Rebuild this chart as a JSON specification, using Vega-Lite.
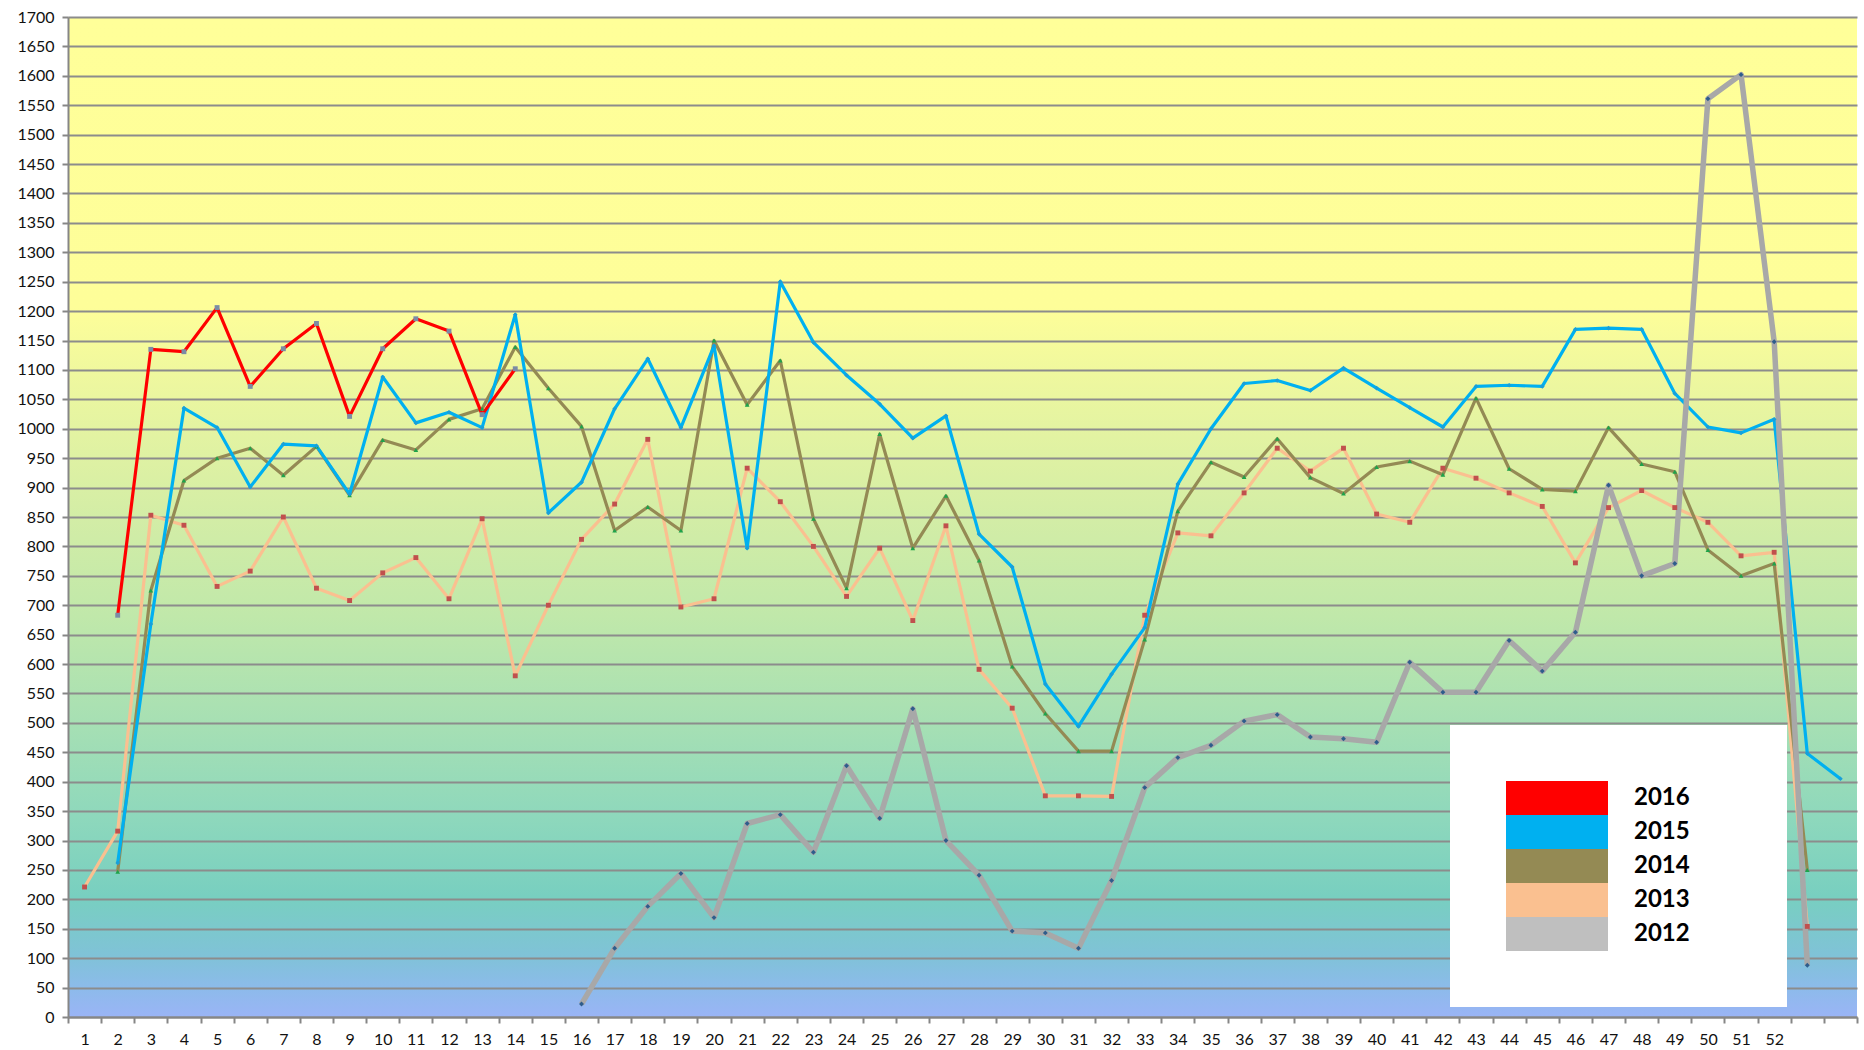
{
  "$schema": "https://vega.github.io/schema/vega-lite/v6.json",
  "width": 1789,
  "height": 1000,
  "autosize": {"type": "none"},
  "padding": {"left": 68, "top": 17, "right": 7, "bottom": 33},
  "background": "white",
  "view": {
    "stroke": null,
    "fill": {
      "gradient": "linear", "x1": 0, "y1": 0, "x2": 0, "y2": 1,
      "stops": [
        {"offset": 0, "color": "#FFFF99"},
        {"offset": 0.29, "color": "#FEFE99"},
        {"offset": 0.38, "color": "#EAF6A0"},
        {"offset": 0.5, "color": "#D3EDA6"},
        {"offset": 0.6, "color": "#C0E8AA"},
        {"offset": 0.7, "color": "#A8E0B3"},
        {"offset": 0.8, "color": "#8ED8BC"},
        {"offset": 0.88, "color": "#78CFC0"},
        {"offset": 0.94, "color": "#80C2D8"},
        {"offset": 0.97, "color": "#8CBBEA"},
        {"offset": 1, "color": "#9AB4F6"}
      ]
    }
  },
  "config": {"font": "Lato"},
  "data": {"values": [
    {"w":1,"y":"2013","v":221},{"w":2,"y":"2013","v":316},{"w":3,"y":"2013","v":853},{"w":4,"y":"2013","v":836},{"w":5,"y":"2013","v":732},{"w":6,"y":"2013","v":758},{"w":7,"y":"2013","v":850},{"w":8,"y":"2013","v":729},{"w":9,"y":"2013","v":708},{"w":10,"y":"2013","v":755},{"w":11,"y":"2013","v":781},{"w":12,"y":"2013","v":711},{"w":13,"y":"2013","v":847},{"w":14,"y":"2013","v":580},{"w":15,"y":"2013","v":700},{"w":16,"y":"2013","v":812},{"w":17,"y":"2013","v":872},{"w":18,"y":"2013","v":982},{"w":19,"y":"2013","v":697},{"w":20,"y":"2013","v":711},{"w":21,"y":"2013","v":933},{"w":22,"y":"2013","v":876},{"w":23,"y":"2013","v":800},{"w":24,"y":"2013","v":715},{"w":25,"y":"2013","v":797},{"w":26,"y":"2013","v":674},{"w":27,"y":"2013","v":835},{"w":28,"y":"2013","v":591},{"w":29,"y":"2013","v":525},{"w":30,"y":"2013","v":376},{"w":31,"y":"2013","v":376},{"w":32,"y":"2013","v":375},{"w":33,"y":"2013","v":683},{"w":34,"y":"2013","v":823},{"w":35,"y":"2013","v":818},{"w":36,"y":"2013","v":891},{"w":37,"y":"2013","v":967},{"w":38,"y":"2013","v":928},{"w":39,"y":"2013","v":967},{"w":40,"y":"2013","v":855},{"w":41,"y":"2013","v":841},{"w":42,"y":"2013","v":933},{"w":43,"y":"2013","v":916},{"w":44,"y":"2013","v":891},{"w":45,"y":"2013","v":868},{"w":46,"y":"2013","v":772},{"w":47,"y":"2013","v":866},{"w":48,"y":"2013","v":895},{"w":49,"y":"2013","v":866},{"w":50,"y":"2013","v":841},{"w":51,"y":"2013","v":784},{"w":52,"y":"2013","v":790},{"w":53,"y":"2013","v":154},
    {"w":2,"y":"2014","v":247},{"w":3,"y":"2014","v":725},{"w":4,"y":"2014","v":912},{"w":5,"y":"2014","v":950},{"w":6,"y":"2014","v":967},{"w":7,"y":"2014","v":921},{"w":8,"y":"2014","v":970},{"w":9,"y":"2014","v":887},{"w":10,"y":"2014","v":981},{"w":11,"y":"2014","v":964},{"w":12,"y":"2014","v":1016},{"w":13,"y":"2014","v":1034},{"w":14,"y":"2014","v":1139},{"w":15,"y":"2014","v":1069},{"w":16,"y":"2014","v":1004},{"w":17,"y":"2014","v":827},{"w":18,"y":"2014","v":867},{"w":19,"y":"2014","v":827},{"w":20,"y":"2014","v":1150},{"w":21,"y":"2014","v":1041},{"w":22,"y":"2014","v":1116},{"w":23,"y":"2014","v":847},{"w":24,"y":"2014","v":729},{"w":25,"y":"2014","v":991},{"w":26,"y":"2014","v":797},{"w":27,"y":"2014","v":886},{"w":28,"y":"2014","v":776},{"w":29,"y":"2014","v":596},{"w":30,"y":"2014","v":516},{"w":31,"y":"2014","v":452},{"w":32,"y":"2014","v":452},{"w":33,"y":"2014","v":642},{"w":34,"y":"2014","v":860},{"w":35,"y":"2014","v":943},{"w":36,"y":"2014","v":918},{"w":37,"y":"2014","v":983},{"w":38,"y":"2014","v":917},{"w":39,"y":"2014","v":890},{"w":40,"y":"2014","v":935},{"w":41,"y":"2014","v":945},{"w":42,"y":"2014","v":922},{"w":43,"y":"2014","v":1052},{"w":44,"y":"2014","v":932},{"w":45,"y":"2014","v":897},{"w":46,"y":"2014","v":894},{"w":47,"y":"2014","v":1002},{"w":48,"y":"2014","v":940},{"w":49,"y":"2014","v":927},{"w":50,"y":"2014","v":794},{"w":51,"y":"2014","v":750},{"w":52,"y":"2014","v":771},{"w":53,"y":"2014","v":250},
    {"w":2,"y":"2015","v":262},{"w":3,"y":"2015","v":668},{"w":4,"y":"2015","v":1035},{"w":5,"y":"2015","v":1002},{"w":6,"y":"2015","v":901},{"w":7,"y":"2015","v":974},{"w":8,"y":"2015","v":971},{"w":9,"y":"2015","v":889},{"w":10,"y":"2015","v":1088},{"w":11,"y":"2015","v":1010},{"w":12,"y":"2015","v":1028},{"w":13,"y":"2015","v":1002},{"w":14,"y":"2015","v":1194},{"w":15,"y":"2015","v":857},{"w":16,"y":"2015","v":909},{"w":17,"y":"2015","v":1034},{"w":18,"y":"2015","v":1119},{"w":19,"y":"2015","v":1002},{"w":20,"y":"2015","v":1141},{"w":21,"y":"2015","v":797},{"w":22,"y":"2015","v":1250},{"w":23,"y":"2015","v":1147},{"w":24,"y":"2015","v":1091},{"w":25,"y":"2015","v":1042},{"w":26,"y":"2015","v":984},{"w":27,"y":"2015","v":1022},{"w":28,"y":"2015","v":821},{"w":29,"y":"2015","v":765},{"w":30,"y":"2015","v":566},{"w":31,"y":"2015","v":494},{"w":32,"y":"2015","v":583},{"w":33,"y":"2015","v":662},{"w":34,"y":"2015","v":906},{"w":35,"y":"2015","v":1000},{"w":36,"y":"2015","v":1077},{"w":37,"y":"2015","v":1082},{"w":38,"y":"2015","v":1065},{"w":39,"y":"2015","v":1103},{"w":40,"y":"2015","v":1069},{"w":41,"y":"2015","v":1036},{"w":42,"y":"2015","v":1003},{"w":43,"y":"2015","v":1072},{"w":44,"y":"2015","v":1074},{"w":45,"y":"2015","v":1072},{"w":46,"y":"2015","v":1169},{"w":47,"y":"2015","v":1171},{"w":48,"y":"2015","v":1169},{"w":49,"y":"2015","v":1060},{"w":50,"y":"2015","v":1003},{"w":51,"y":"2015","v":993},{"w":52,"y":"2015","v":1016},{"w":53,"y":"2015","v":448},{"w":54,"y":"2015","v":405},
    {"w":2,"y":"2016","v":683},{"w":3,"y":"2016","v":1135},{"w":4,"y":"2016","v":1131},{"w":5,"y":"2016","v":1206},{"w":6,"y":"2016","v":1072},{"w":7,"y":"2016","v":1136},{"w":8,"y":"2016","v":1179},{"w":9,"y":"2016","v":1021},{"w":10,"y":"2016","v":1136},{"w":11,"y":"2016","v":1187},{"w":12,"y":"2016","v":1166},{"w":13,"y":"2016","v":1024},{"w":14,"y":"2016","v":1102},
    {"w":16,"y":"2012","v":22},{"w":17,"y":"2012","v":117},{"w":18,"y":"2012","v":188},{"w":19,"y":"2012","v":244},{"w":20,"y":"2012","v":169},{"w":21,"y":"2012","v":329},{"w":22,"y":"2012","v":344},{"w":23,"y":"2012","v":280},{"w":24,"y":"2012","v":427},{"w":25,"y":"2012","v":338},{"w":26,"y":"2012","v":524},{"w":27,"y":"2012","v":300},{"w":28,"y":"2012","v":241},{"w":29,"y":"2012","v":146},{"w":30,"y":"2012","v":143},{"w":31,"y":"2012","v":117},{"w":32,"y":"2012","v":232},{"w":33,"y":"2012","v":390},{"w":34,"y":"2012","v":441},{"w":35,"y":"2012","v":462},{"w":36,"y":"2012","v":503},{"w":37,"y":"2012","v":514},{"w":38,"y":"2012","v":476},{"w":39,"y":"2012","v":473},{"w":40,"y":"2012","v":467},{"w":41,"y":"2012","v":603},{"w":42,"y":"2012","v":552},{"w":43,"y":"2012","v":552},{"w":44,"y":"2012","v":640},{"w":45,"y":"2012","v":588},{"w":46,"y":"2012","v":654},{"w":47,"y":"2012","v":904},{"w":48,"y":"2012","v":750},{"w":49,"y":"2012","v":771},{"w":50,"y":"2012","v":1561},{"w":51,"y":"2012","v":1602},{"w":52,"y":"2012","v":1148},{"w":53,"y":"2012","v":88}
  ]},
  "encoding": {
    "x": {
      "field": "w", "type": "ordinal", "bandPosition": 0.5,
      "scale": {"type": "band", "domain": [1,2,3,4,5,6,7,8,9,10,11,12,13,14,15,16,17,18,19,20,21,22,23,24,25,26,27,28,29,30,31,32,33,34,35,36,37,38,39,40,41,42,43,44,45,46,47,48,49,50,51,52,53,54], "paddingInner": 0, "paddingOuter": 0},
      "axis": {
        "title": null, "grid": false, "labelAngle": 0, "tickBand": "extent",
        "labelExpr": "datum.value > 52 ? '' : datum.label",
        "labelFontSize": 16, "labelColor": "#111111", "labelPadding": 8,
        "domainColor": "#868686", "domainWidth": 2, "tickColor": "#868686", "tickWidth": 2, "tickSize": 6
      }
    },
    "y": {
      "field": "v", "type": "quantitative",
      "scale": {"domain": [0, 1700], "nice": false},
      "axis": {
        "title": null, "format": "d",
        "values": [0,50,100,150,200,250,300,350,400,450,500,550,600,650,700,750,800,850,900,950,1000,1050,1100,1150,1200,1250,1300,1350,1400,1450,1500,1550,1600,1650,1700],
        "grid": true, "gridColor": "#8C8C8C", "gridWidth": 2, "gridOpacity": 1,
        "labelFontSize": 16, "labelColor": "#111111", "labelPadding": 8,
        "domainColor": "#868686", "domainWidth": 2, "tickColor": "#868686", "tickWidth": 2, "tickSize": 6
      }
    }
  },
  "layer": [
    {
      "mark": {"type": "line", "strokeJoin": "round"},
      "encoding": {
        "color": {
          "field": "y", "type": "nominal",
          "scale": {"domain": ["2016","2015","2014","2013","2012"], "range": ["#FF0000","#00B0F0","#948A54","#FAC090","#A8A8A8"]},
          "legend": {
            "title": null, "orient": "none", "legendX": 1382, "legendY": 708,
            "fillColor": "white", "padding": 56, "rowPadding": 0,
            "symbolType": "M-3,-1H3V1H-3Z M10.2,0L10.2,0", "symbolSize": 1156, "symbolStrokeWidth": 0, "symbolOffset": 34,
            "labelFontSize": 24, "labelFontWeight": "bold", "labelColor": "black", "labelOffset": 60,
            "encode": {"symbols": {"update": {
              "fill": {"signal": "datum.value === '2012' ? '#BFBFBF' : scale('color', datum.value)"},
              "fillOpacity": {"value": 1},
              "stroke": {"value": "transparent"},
              "strokeWidth": {"value": 0}
            }}}
          }
        },
        "strokeWidth": {"condition": {"test": "datum.y === '2012'", "value": 5.5}, "value": 3.2}
      }
    },
    {
      "transform": [{"filter": {"field": "y", "equal": "2013"}}],
      "mark": {"type": "point", "shape": "square", "filled": true, "size": 24, "opacity": 1, "strokeWidth": 0, "fill": "#C0504D"}
    },
    {
      "transform": [{"filter": {"field": "y", "equal": "2014"}}],
      "mark": {"type": "point", "shape": "triangle-up", "filled": true, "size": 22, "opacity": 1, "strokeWidth": 0, "fill": "#1EA34A"}
    },
    {
      "transform": [{"filter": {"field": "y", "equal": "2015"}}],
      "mark": {"type": "point", "shape": "diamond", "filled": true, "size": 22, "opacity": 1, "strokeWidth": 0, "fill": "#1A9FD8"}
    },
    {
      "transform": [{"filter": {"field": "y", "equal": "2016"}}],
      "mark": {"type": "point", "shape": "square", "filled": true, "size": 24, "opacity": 1, "strokeWidth": 0, "fill": "#7B8CA5"}
    },
    {
      "transform": [{"filter": {"field": "y", "equal": "2012"}}],
      "mark": {"type": "point", "shape": "diamond", "filled": true, "size": 24, "opacity": 1, "strokeWidth": 0, "fill": "#2E5D8C"}
    }
  ]
}
